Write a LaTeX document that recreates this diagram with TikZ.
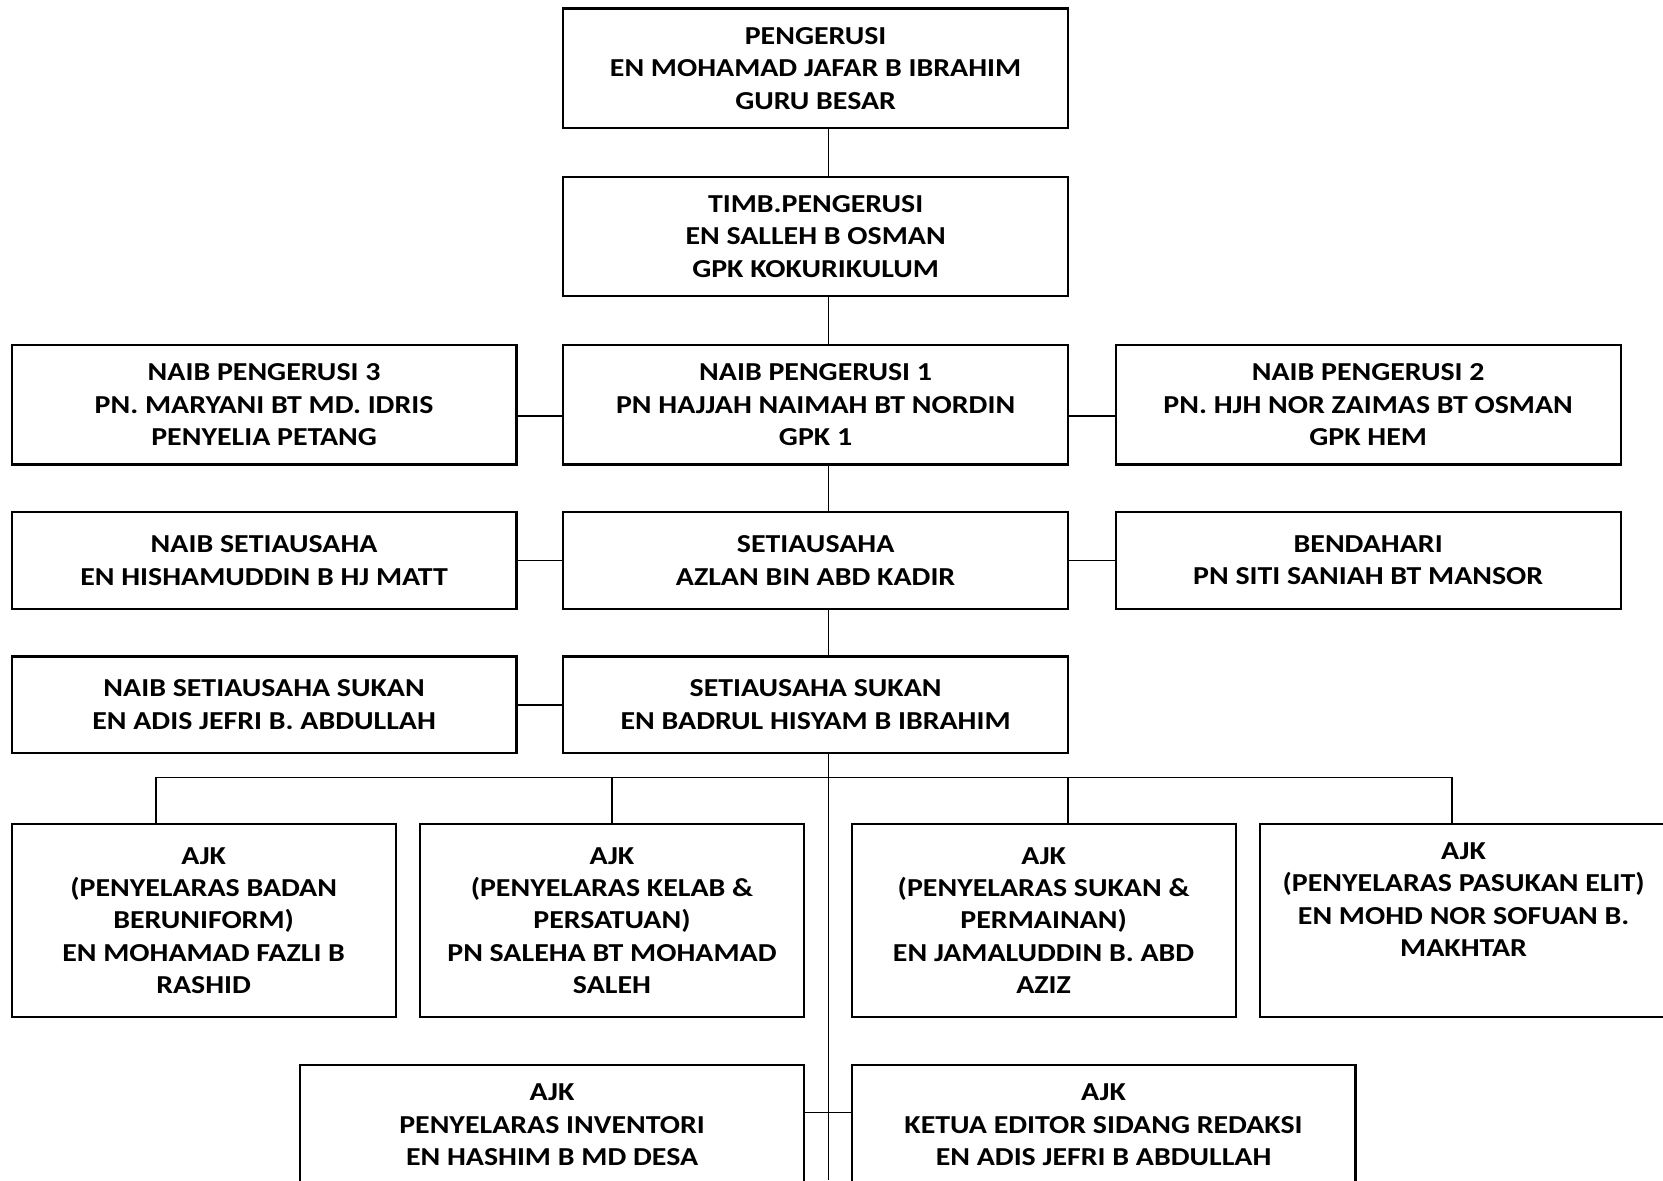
\documentclass[tikz,border=0pt]{standalone}
\usepackage{fontspec}
\setmainfont[FakeStretch=1.155]{Carlito}
\begin{document}
\begin{tikzpicture}[x=0.5pt,y=-0.5pt,
  box/.style={draw,line width=1pt,align=center,inner sep=0pt,
    font=\bfseries\fontsize{12.2}{15.25}\selectfont},
  wide/.style={box,minimum width=238pt},
  link/.style={line width=0.75pt}]
\path[use as bounding box,fill=white] (0,0) rectangle (1568,1112.6);
\node[wide,minimum height=56.5pt] (chair) at (769,64.5) {PENGERUSI\\EN MOHAMAD JAFAR B IBRAHIM\\GURU BESAR};
\node[wide,minimum height=56pt] (deputy) at (769,223) {TIMB.PENGERUSI\\EN SALLEH B OSMAN\\GPK KOKURIKULUM};
\node[wide,minimum height=56.5pt] (vice1) at (769,381.5) {NAIB PENGERUSI 1\\PN HAJJAH NAIMAH BT NORDIN\\GPK 1};
\node[wide,minimum height=56.5pt] (vice3) at (249,381.5) {NAIB PENGERUSI 3\\PN. MARYANI BT MD. IDRIS\\PENYELIA PETANG};
\node[wide,minimum height=56.5pt] (vice2) at (1290,381.5) {NAIB PENGERUSI 2\\PN. HJH NOR ZAIMAS BT OSMAN\\GPK HEM};
\node[wide,minimum height=45.5pt] (sec) at (769,528.5) {SETIAUSAHA\\AZLAN BIN ABD KADIR};
\node[wide,minimum height=45.5pt] (vsec) at (249,528.5) {NAIB SETIAUSAHA\\EN HISHAMUDDIN B HJ MATT};
\node[wide,minimum height=45.5pt] (treas) at (1290,528.5) {BENDAHARI\\PN SITI SANIAH BT MANSOR};
\node[wide,minimum height=45.5pt] (sport) at (769,664.5) {SETIAUSAHA SUKAN\\EN BADRUL HISYAM B IBRAHIM};
\node[wide,minimum height=45.5pt] (vsport) at (249,664.5) {NAIB SETIAUSAHA SUKAN\\EN ADIS JEFRI B. ABDULLAH};
\node[box,minimum width=181pt,minimum height=91pt] (ajkA) at (192,868) {AJK\\(PENYELARAS BADAN\\BERUNIFORM)\\EN MOHAMAD FAZLI B\\RASHID};
\node[box,minimum width=181pt,minimum height=91pt] (ajkB) at (577,868) {AJK\\(PENYELARAS KELAB \&\\PERSATUAN)\\PN SALEHA BT MOHAMAD\\SALEH};
\node[box,minimum width=181pt,minimum height=91pt] (ajkC) at (984,868) {AJK\\(PENYELARAS SUKAN \&\\PERMAINAN)\\EN JAMALUDDIN B. ABD\\AZIZ};
\node[box,minimum width=192pt,minimum height=91pt] (ajkD) at (1380,868) {AJK\\(PENYELARAS PASUKAN ELIT)\\EN MOHD NOR SOFUAN B.\\MAKHTAR\\ \strut};
\node[box,minimum width=237.5pt,minimum height=56.5pt] (ajkE) at (520.5,1060.5) {AJK\\PENYELARAS INVENTORI\\EN HASHIM B MD DESA};
\node[box,minimum width=237.5pt,minimum height=56.5pt] (ajkF) at (1040.5,1060.5) {AJK\\KETUA EDITOR SIDANG REDAKSI\\EN ADIS JEFRI B ABDULLAH};
\coordinate (spine) at (781,1112.6);
\coordinate (r3) at (0,392);
\coordinate (r7) at (0,1049);
\coordinate (dA) at (147,733);
\coordinate (dB) at (577,733);
\coordinate (dC) at (1007,733);
\coordinate (dD) at (1369,733);
\draw[link] (chair.south -| spine) -- (deputy.north -| spine);
\draw[link] (deputy.south -| spine) -- (vice1.north -| spine);
\draw[link] (vice1.south -| spine) -- (sec.north -| spine);
\draw[link] (sec.south -| spine) -- (sport.north -| spine);
\draw[link] (sport.south -| spine) -- (spine);
\draw[link] (vice3.east |- r3) -- (vice1.west |- r3);
\draw[link] (vice1.east |- r3) -- (vice2.west |- r3);
\draw[link] (vsec) -- (sec) -- (treas);
\draw[link] (vsport) -- (sport);
\draw[link] (dA) -- (dD);
\foreach \d/\b in {dA/ajkA,dB/ajkB,dC/ajkC,dD/ajkD}
  \draw[link] (\d) -- (\d |- \b.north);
\draw[link] (ajkE.east |- r7) -- (ajkF.west |- r7);
\end{tikzpicture}
\end{document}
